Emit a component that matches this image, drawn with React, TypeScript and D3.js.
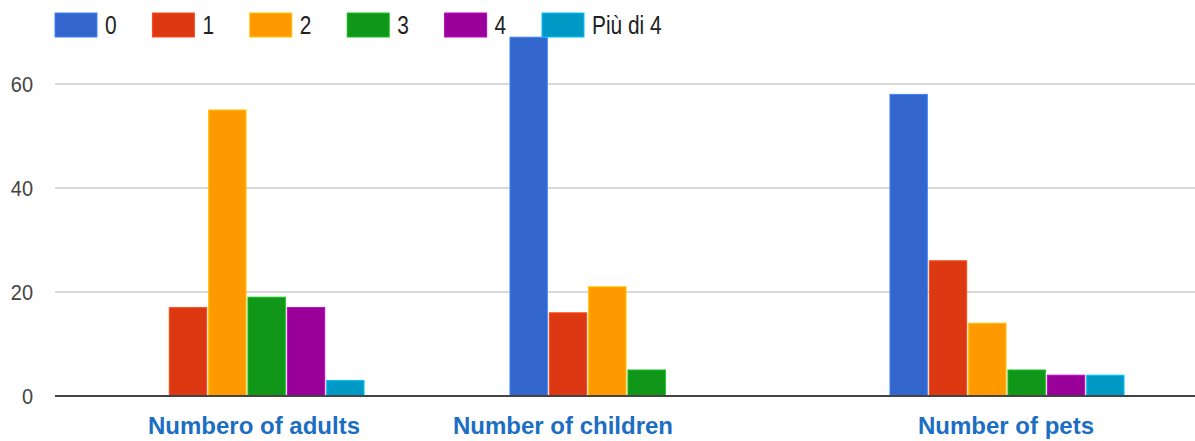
import React from 'react';
import * as d3 from 'd3';

const categories = ['Numbero of adults', 'Number of children', 'Number of pets'];
const seriesNames = ['0', '1', '2', '3', '4', 'Più di 4'];
const seriesColors = ['#3366cc', '#dc3912', '#ff9900', '#109618', '#990099', '#0099c6'];
const adultsValues = [0, 17, 55, 19, 17, 3];
const childrenValues = [69, 16, 21, 5, 0, 0];
const petsValues = [58, 26, 14, 5, 4, 4];
const yTicks = [0, 20, 40, 60];

const W = 1195;
const H = 441;
const FONT = '"Liberation Sans", Arial, sans-serif';
const LABEL_DX = [7, -64, -1];

export default function App() {
  const groups = [adultsValues, childrenValues, petsValues];
  const x0 = d3.scaleBand<string>().domain(categories).range([57, 1197]).padding(0);
  const x1 = d3
    .scaleBand<string>()
    .domain(seriesNames)
    .range([0, x0.bandwidth()])
    .paddingInner(0.05)
    .paddingOuter(1.855);
  const y = d3.scaleLinear().domain([0, 60]).range([396, 84]);

  const legendStep = 97.4;

  return (
    <svg
      width={W}
      height={H}
      style={{ position: 'absolute', left: 0, top: 0, background: '#fff' }}
      fontFamily={FONT}
    >
      <rect x={0} y={0} width={W} height={H} fill="#fff" />
      {/* gridlines */}
      {yTicks.filter((t) => t !== 0).map((t) => (
        <line key={t} x1={55} x2={W} y1={y(t)} y2={y(t)} stroke="#d8d8d8" strokeWidth={2} />
      ))}
      {/* y tick labels */}
      {yTicks.map((t) => (
        <text
          key={'l' + t}
          transform={`translate(33,${y(t) + 7.5}) scale(0.95,1.08)`}
          textAnchor="end"
          fontSize={21}
          fill="#444"
        >
          {t}
        </text>
      ))}
      {/* bars */}
      {groups.map((vals, gi) =>
        vals.map((v, si) =>
          v > 0 ? (
            <rect
              key={gi + '-' + si}
              x={(x0(categories[gi]) ?? 0) + (x1(seriesNames[si]) ?? 0)}
              y={y(v)}
              width={x1.bandwidth()}
              height={y(0) - y(v)}
              fill={seriesColors[si]}
              stroke={d3.color(seriesColors[si])!.brighter(0.7).formatHex()}
              strokeWidth={1}
            />
          ) : null
        )
      )}
      {/* baseline */}
      <line x1={55} x2={W} y1={y(0)} y2={y(0)} stroke="#444" strokeWidth={2} />
      {/* category labels */}
      {categories.map((c, i) => (
        <text
          key={c}
          x={(x0(c) ?? 0) + x0.bandwidth() / 2 + LABEL_DX[i]}
          y={434}
          textAnchor="middle"
          fontSize={24}
          fontWeight="bold"
          fill="#1b6ec2"
        >
          {c}
        </text>
      ))}
      {/* legend */}
      {seriesNames.map((s, i) => (
        <g key={'lg' + s} transform={`translate(${55 + i * legendStep},13)`}>
          <rect x={0} y={0} width={42} height={24} fill={seriesColors[i]}
            stroke={d3.color(seriesColors[i])!.brighter(0.7).formatHex()} strokeWidth={1} />
          <text transform="translate(50,21) scale(0.95,1.15)" fontSize={22} fill="#222">
            {s}
          </text>
        </g>
      ))}
    </svg>
  );
}
